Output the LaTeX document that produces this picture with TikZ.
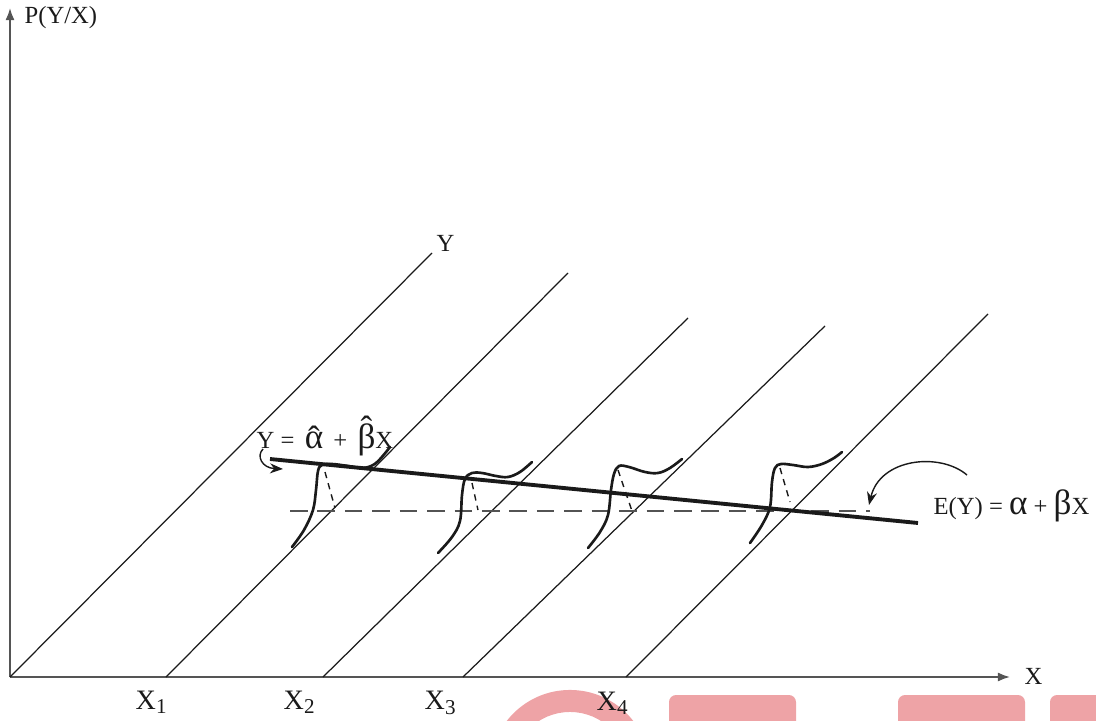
\documentclass[tikz,border=0pt]{standalone}
\usepackage{fontspec}
\setmainfont{Liberation Serif}
\usepackage{xcolor}
\usetikzlibrary{arrows.meta,calc,positioning}
\definecolor{ink}{HTML}{1A1A1A}
\definecolor{axis}{HTML}{555555}
\definecolor{stampRed}{HTML}{EEA3A6}
\newcommand{\hatg}[2][0pt]{\ooalign{#2\cr\hidewidth\raisebox{#1}{ˆ}\hidewidth\cr}}

\begin{document}
\begin{tikzpicture}[
    x=0.01cm, y=-0.01cm,
    font=\fontsize{7}{8}\selectfont,
    axisline/.style={draw=axis, line width=0.5pt, -{Latex[length=1.2mm, width=0.9mm]}},
    plane/.style={draw=ink, line width=0.35pt},
    fitline/.style={draw=ink, line width=1.1pt},
    meanline/.style={draw=ink!75, line width=0.45pt, dash pattern=on 5pt off 2.8pt},
    bell/.style={draw=ink, line width=0.75pt, line cap=round},
    drop/.style={draw=ink, line width=0.4pt, dash pattern=on 1.8pt off 1.5pt},
    pointer/.style={draw=ink, line width=0.4pt, -{Stealth[length=1.3mm, width=1mm]}},
    tag/.style={inner sep=0pt, text=ink},
    stampbox/.style={fill=stampRed, rounded corners=2pt}
]
\useasboundingbox (0,0) rectangle (1096,721);

% Red marks along the lower edge.
\begin{scope}
    \clip (0,0) rectangle (1096,721);
    \fill[fill=stampRed, even odd rule] (570,770) circle [radius=0.80cm] (570,770) circle [radius=0.58cm];
    \fill[stampbox] (669,695) rectangle (796,740);
    \fill[stampbox] (898,695) rectangle (1025,740);
    \fill[stampbox] (1050,695) rectangle (1120,740);
\end{scope}

% Axes.
\coordinate (O) at (10,677);
\coordinate (ytop) at (10,8);
\coordinate (xend) at (1010,677);
\draw[axisline] (O) -- (ytop);
\draw[axisline] (O) -- (xend);
\node[tag, anchor=west] (pyx) at (24,18) {P(Y/X)};
\node[tag, anchor=west] (xlab) at (1024,676) {X};

% Oblique planes through X1..X4.
\coordinate (b0) at (10,677);   \coordinate (t0) at (432,253);
\coordinate (b1) at (166,677);  \coordinate (t1) at (568,273);
\coordinate (b2) at (323,677);  \coordinate (t2) at (688,318);
\coordinate (b3) at (463,677);  \coordinate (t3) at (825,326);
\coordinate (b4) at (626,677);  \coordinate (t4) at (988,314);
\foreach \i in {0,...,4} {
    \draw[plane] (b\i) -- (t\i);
}
\node[tag, anchor=south west] (ylab) at (436,252) {Y};

\node[tag, font=\fontsize{8}{8}\selectfont] (x1) at (152,702) {X\textsubscript{1}};
\node[tag, font=\fontsize{8}{8}\selectfont] (x2) at (300,702) {X\textsubscript{2}};
\node[tag, font=\fontsize{8}{8}\selectfont] (x3) at (441,703) {X\textsubscript{3}};
\node[tag, font=\fontsize{8}{8}\selectfont] (x4) at (613,703) {X\textsubscript{4}};

% Mean line and fitted line.
\coordinate (m0) at (290,511);
\coordinate (m1) at (870,511);
\draw[meanline] (m0) -- (m1);
\coordinate (f0) at (270,459);
\coordinate (f1) at (918,523);
\draw[fitline] (f0) -- (f1);

% Conditional distributions.
\draw[bell] plot[smooth, tension=0.6] coordinates {(292,547) (304,530) (313,510) (316,490) (318,471) (322,465) (332,464) (348,466) (363,468) (376,463) (390,447)};
\draw[bell] plot[smooth, tension=0.6] coordinates {(438,553) (452,537) (460,521) (462,495) (465,479) (472,473) (482,473) (496,476) (508,477) (520,472) (532,462)};
\draw[bell] plot[smooth, tension=0.6] coordinates {(588,548) (600,532) (608,515) (611,490) (614,474) (619,466) (629,467) (645,472) (658,473) (670,468) (682,459)};
\draw[bell] plot[smooth, tension=0.6] coordinates {(750,543) (762,525) (770,507) (772,482) (775,468) (781,464) (793,465) (808,467) (822,464) (834,458) (842,452)};

\draw[drop] (325,472) -- (335,508);
\draw[drop] (472,483) -- (478,510);
\draw[drop] (618,470) -- (632,511);
\draw[drop] (780,468) -- (790,502);

% Equation labels.
\node[tag, anchor=west] (fitEq) at (256,437) {Y = \,{\fontsize{10}{10}\selectfont\hatg[-0.5pt]{α}}\, + \,{\fontsize{10}{10}\selectfont\hatg[2.2pt]{β}}X};
\node[tag, anchor=west] (meanEq) at (933,506) {E(Y) = {\fontsize{10}{10}\selectfont α} + {\fontsize{10}{10}\selectfont β}X};

\coordinate (hookStart) at (263,449);
\coordinate (hookTip) at (283,469);
\draw[pointer] (hookStart) .. controls (256,456) and (262,468) .. (hookTip);
\coordinate (curlStart) at (967,475);
\coordinate (meanTip) at (869,505);
\draw[pointer] (curlStart) .. controls (940,452) and (880,458) .. (meanTip);

\end{tikzpicture}
\end{document}
